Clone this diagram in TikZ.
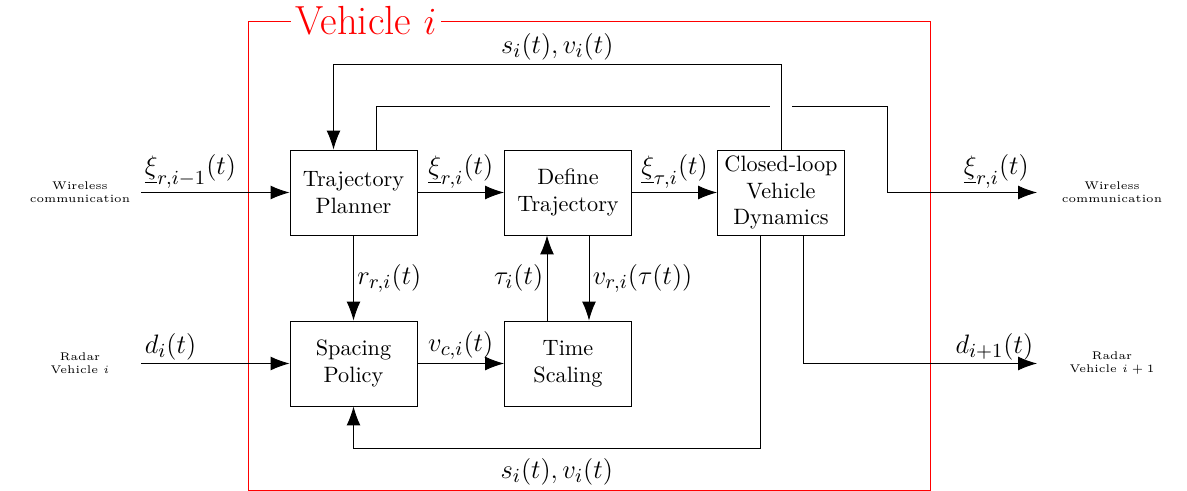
\documentclass[tikz,border=0pt]{standalone}
\usetikzlibrary{arrows.meta,calc}
\begin{document}
\begin{tikzpicture}[x=0.45pt,y=-0.45pt,
  block/.style={draw,align=center,minimum width=57.15pt,minimum height=38.25pt,inner sep=1pt},
  arr/.style={-{Latex[length=8.5pt,width=6.2pt]}},
  lab/.style={font=\fontsize{13}{15}\selectfont,inner sep=1.5pt},
  side/.style={font=\tiny,align=center}]
\useasboundingbox (0,0) rectangle (1187,491);

% vehicle frame
\draw[red] (248,21) rectangle (930,490);
\node[red,fill=white,font=\fontsize{18.3}{21}\selectfont,inner sep=2pt] (veh) at (366,21) {Vehicle $i$};

% blocks
\node[block] (tp) at (353.5,192.5) {Trajectory\\Planner};
\node[block] (dt) at (568,192.5) {Define\\Trajectory};
\node[block] (cl) at (781,192.5) {Closed-loop\\Vehicle\\Dynamics};
\node[block] (sp) at (353.5,363.5) {Spacing\\Policy};
\node[block] (ts) at (568,363.5) {Time\\Scaling};

% external sources and sinks
\node[side] (win) at (80,192) {Wireless\\communication};
\node[side] (rin) at (80,363) {Radar\\Vehicle $i$};
\node[side] (wout) at (1112,192) {Wireless\\communication};
\node[side] (rout) at (1112,363) {Radar\\Vehicle $i+1$};

\coordinate (inw) at (141,192.5);
\coordinate (inr) at (141,363.5);
\coordinate (outw) at (1037,192.5);
\coordinate (outr) at (1037,363.5);
\coordinate (ytop) at (0,64);
\coordinate (ymid) at (0,106);
\coordinate (xbr) at (887,0);
\coordinate (ybot) at (0,448);

% inputs
\draw[arr] (inw) -- node[lab,above right,pos=0] {$\underline{\xi}_{r,i-1}(t)$} (tp.west);
\draw[arr] (inr) -- node[lab,above right,pos=0] {$d_i(t)$} (sp.west);

% forward path
\draw[arr] (tp.east) -- node[lab,above] {$\underline{\xi}_{r,i}(t)$} (dt.west);
\draw[arr] (dt.east) -- node[lab,above] {$\underline{\xi}_{\tau,i}(t)$} (cl.west);
\draw[arr] (sp.east) -- node[lab,above] {$v_{c,i}(t)$} (ts.west);
\draw[arr] (tp.south) -- node[lab,right] {$r_{r,i}(t)$} (sp.north);
\draw[arr] ($(ts.north)+(-21,0)$) -- node[lab,left] {$\tau_i(t)$} ($(dt.south)+(-21,0)$);
\draw[arr] ($(dt.south)+(21,0)$) -- node[lab,right] {$v_{r,i}(\tau(t))$} ($(ts.north)+(21,0)$);

% state feedback to the planner
\draw[arr] (cl.north) -- (cl.north |- ytop)
  -- node[lab,above] {$s_i(t),v_i(t)$} ($(tp.north |- ytop)+(-20,0)$)
  -- ($(tp.north)+(-20,0)$);

% planned trajectory sent onward
\draw ($(tp.north)+(22.5,0)$) -- ($(tp.north |- ymid)+(22.5,0)$) -- ($(cl.north |- ymid)+(-11,0)$);
\draw[arr] ($(cl.north |- ymid)+(11,0)$) -- (xbr |- ymid) -- (xbr |- outw)
  -- node[lab,above left,pos=1,xshift=-2pt] {$\underline{\xi}_{r,i}(t)$} (outw);

% measured distance for the follower
\draw[arr] ($(cl.south)+(22,0)$) -- ($(cl.south |- outr)+(22,0)$)
  -- node[lab,above left,pos=1] {$d_{i+1}(t)$} (outr);

% state feedback to the spacing policy
\draw[arr] ($(cl.south)+(-21,0)$) -- ($(cl.south |- ybot)+(-21,0)$)
  -- node[lab,below,yshift=-3pt] {$s_i(t),v_i(t)$} (sp.south |- ybot)
  -- (sp.south);
\end{tikzpicture}
\end{document}
